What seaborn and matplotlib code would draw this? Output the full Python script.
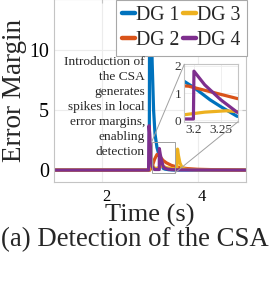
import pandas as pd
import seaborn as sns
import matplotlib.pyplot as plt
import matplotlib.transforms as mtransforms
from matplotlib.patches import Rectangle, ConnectionPatch

# Series (time in s, error margin)
dg1_t = [1.0, 2.99, 3.0, 3.03, 3.05, 3.08, 3.11, 3.15, 3.18, 3.2, 3.23, 3.25, 3.28, 3.32, 3.4, 3.5, 5.0]
dg1_v = [0.0, 0.0, 20.0, 13.0, 9.0, 5.0, 3.0, 1.9, 1.45, 1.2, 0.75, 0.5, 0.15, 0.08, 0.03, 0.01, 0.0]

dg2_t = [1.0, 3.0, 3.05, 3.1, 3.15, 3.19, 3.22, 3.25, 3.28, 3.35, 3.45, 3.6, 3.8, 4.0, 4.4, 5.0]
dg2_v = [0.0, 0.0, 0.3, 0.9, 1.3, 1.25, 1.1, 0.95, 0.8, 0.6, 0.4, 0.22, 0.12, 0.07, 0.03, 0.0]

dg3_t = [1.0, 2.99, 3.01, 3.03, 3.06, 3.1, 3.15, 3.18, 3.22, 3.26, 3.28, 3.35, 3.5, 3.565, 3.58, 3.6, 3.63, 3.67, 3.72, 3.8, 4.0, 5.0]
dg3_v = [0.0, 0.0, 1.7, 1.0, 0.4, 0.15, 0.15, 0.2, 0.3, 0.35, 0.32, 0.2, 0.1, 0.1, 1.75, 1.2, 0.6, 0.25, 0.1, 0.05, 0.02, 0.0]

dg4_t = [1.0, 2.975, 2.985, 3.0, 3.02, 3.05, 3.1, 3.199, 3.2, 3.22, 3.25, 3.28, 3.32, 3.38, 3.45, 3.6, 5.0]
dg4_v = [0.0, 0.0, 3.7, 3.0, 1.5, 0.3, 0.05, 0.05, 1.8, 1.3, 0.75, 0.3, 0.15, 0.08, 0.04, 0.02, 0.0]

labels = ['DG 1', 'DG 2', 'DG 3', 'DG 4']
colors = ['#0072BD', '#D95319', '#EDB120', '#7E2F8E']

frames = []
for name, t, v in zip(labels, [dg1_t, dg2_t, dg3_t, dg4_t], [dg1_v, dg2_v, dg3_v, dg4_v]):
    frames.append(pd.DataFrame({'t': t, 'v': v, 'DG': name}))
df = pd.concat(frames, ignore_index=True)

sns.set_style('white')
plt.rcParams['font.family'] = ['Liberation Serif', 'DejaVu Serif']

edge = '#c4c4c4'
grid = '#ececec'

fig = plt.figure(figsize=(2.69, 3.02), dpi=100)
ax = fig.add_axes([0.2007, 0.398, 0.712, 0.605])

sns.lineplot(data=df, x='t', y='v', hue='DG', palette=colors, estimator=None,
             sort=False, linewidth=2.3, ax=ax)

ax.set_xlim(1, 5)
ax.set_ylim(-0.975, 14.25)
ax.set_xticks([2, 4])
ax.set_yticks([0, 5, 10])
ax.grid(True, color=grid, linewidth=0.8)
ax.set_axisbelow(True)
for s in ax.spines.values():
    s.set_color(edge)
    s.set_linewidth(0.8)
ax.tick_params(axis='both', direction='in', length=3, color=edge,
               labelcolor='black', right=True, top=True)
ax.tick_params(axis='y', labelsize=14.4, pad=3.5)
ax.tick_params(axis='x', labelsize=12, pad=5)
# x tick labels sit a little to the right of their ticks
shift = mtransforms.ScaledTranslation(4.5 / 100, 0, fig.dpi_scale_trans)
for lbl in ax.get_xticklabels():
    lbl.set_transform(lbl.get_transform() + shift)

ax.set_xlabel('Time (s)', fontsize=19)
ax.set_ylabel('Error Margin', fontsize=19.5)
ax.xaxis.label.set_va('center')
ax.xaxis.set_label_coords(0.5, -0.185)
ax.yaxis.set_label_coords(-0.14, 0.5)

# legend
handles, labs = ax.get_legend_handles_labels()
for h in handles:
    h.set_linewidth(3.2)
leg = ax.legend(handles, labs, ncol=2, loc='upper right', fontsize=14.2,
                bbox_to_anchor=(246.5 / 269, 1.0), bbox_transform=fig.transFigure,
                borderaxespad=0, handlelength=0.62, handletextpad=0.08,
                columnspacing=0.2, labelspacing=0.32, borderpad=0.3,
                frameon=True, fancybox=False, framealpha=1)
leg.get_frame().set_edgecolor('#a8a8a8')
leg.get_frame().set_linewidth(0.8)

# zoom box on main axes
rect = Rectangle((3.04, -0.22), 0.49, 2.57, fill=False, edgecolor='#a0a0a0', linewidth=0.7, zorder=5)
ax.add_patch(rect)

# inset
axin = fig.add_axes([0.685, 0.597, 0.2, 0.19])
sns.lineplot(data=df, x='t', y='v', hue='DG', palette=colors, estimator=None,
             sort=False, linewidth=2.3, ax=axin, legend=False)
axin.set_xlim(3.182, 3.282)
axin.set_ylim(-0.05, 2.05)
axin.set_xticks([3.2, 3.25])
axin.set_xticklabels(['3.2', '3.25'])
axin.set_yticks([0, 1, 2])
axin.set_xlabel('')
axin.set_ylabel('')
axin.grid(True, color=grid, linewidth=0.6)
for s in axin.spines.values():
    s.set_color(edge)
    s.set_linewidth(0.8)
axin.tick_params(axis='both', direction='in', length=2, color=edge, labelsize=9.5,
                 labelcolor='#333333', pad=2)
axin.set_facecolor('white')

for xy_main, xy_in in [((3.04, 2.35), (0, 1)), ((3.53, -0.22), (1, 0))]:
    con = ConnectionPatch(xyA=xy_main, coordsA=ax.transData, xyB=xy_in, coordsB=axin.transAxes,
                          color='#a0a0a0', linewidth=0.7)
    fig.add_artist(con)

fig.text(145 / 269, 1 - 56 / 302,
         'Introduction of\nthe CSA\ngenerates\nspikes in local\nerror margins,\nenabling\ndetection',
         ha='right', va='top', multialignment='right', fontsize=9.6, linespacing=1.33)

fig.text(0.5, 1 - 240 / 302, '(a) Detection of the CSA', ha='center', va='center', fontsize=19.3)

fig.savefig('out.png', dpi=100)
